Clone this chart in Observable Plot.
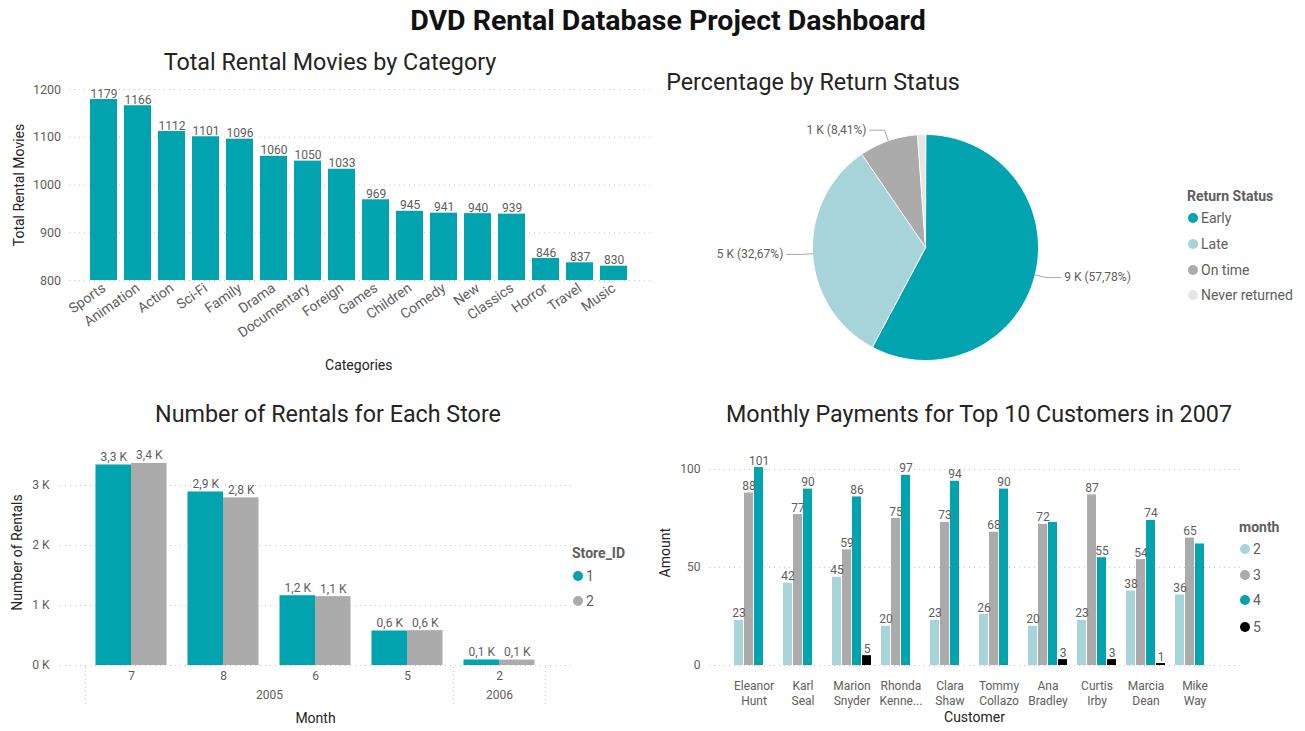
<!DOCTYPE html>
<html><head><meta charset="utf-8">
<script src="https://cdn.jsdelivr.net/npm/d3@7"></script>
<script src="https://cdn.jsdelivr.net/npm/@observablehq/plot@0.6"></script>
<style>
body{margin:0;background:#fff;font-family:Roboto,"Noto Sans",sans-serif;}
#root{position:relative;width:1305px;height:731px;overflow:hidden;background:#fff;}
.title{position:absolute;transform:translate(-50%,-50%);white-space:nowrap;color:#252423;font-size:23.3px;}
.main{font-weight:bold;font-size:28.5px;color:#111;}
.legtitle{position:absolute;transform:translateY(-50%);font-weight:bold;font-size:14px;color:#605E5C;white-space:nowrap;}
.legitem{position:absolute;transform:translateY(-50%);font-size:14px;color:#605E5C;white-space:nowrap;display:flex;align-items:center;}
.dot{display:inline-block;width:10px;height:10px;border-radius:50%;margin-right:3px;}
</style></head><body><div id="root"></div>
<script>
// ---------- data ----------
const categories = ["Sports","Animation","Action","Sci-Fi","Family","Drama","Documentary","Foreign","Games","Children","Comedy","New","Classics","Horror","Travel","Music"];
const categoryRentals = [1179,1166,1112,1101,1096,1060,1050,1033,969,945,941,940,939,846,837,830];

const returnStatuses = ["Early","Late","On time","Never returned"];
const returnCounts = [9270,5242,1349,183];

const storeMonths = ["7","8","6","5","2"];
const storeYears = ["2005","2005","2005","2005","2006"];
const storeIds = ["1","2"];
const store1Rentals = [3342,2892,1163,575,92];
const store2Rentals = [3367,2794,1148,581,90];

const customers = ["Eleanor Hunt","Karl Seal","Marion Snyder","Rhonda Kennedy","Clara Shaw","Tommy Collazo","Ana Bradley","Curtis Irby","Marcia Dean","Mike Way"];
const customerTickLabels = ["Eleanor\nHunt","Karl\nSeal","Marion\nSnyder","Rhonda\nKenne...","Clara\nShaw","Tommy\nCollazo","Ana\nBradley","Curtis\nIrby","Marcia\nDean","Mike\nWay"];
const paymentMonths = ["2","3","4","5"];
const payFeb = [23,42,45,20,23,26,20,23,38,36];
const payMar = [88,77,59,75,73,68,72,87,54,65];
const payApr = [101,90,86,97,94,90,73,55,74,62];
const payMay = [null,null,5,null,null,null,3,3,1,null];
const unlabeledPayments = [["Ana Bradley","4"],["Mike Way","4"]];

// ---------- styling ----------
const FONT = "Roboto, 'Noto Sans', sans-serif";
const TEAL = "#01A3AF", LIGHT = "#A6D4D8", GRAY = "#ABABAB", PALE = "#E6E6E6", BLACK = "#000000";
const GRID = "#C4C4C4", TXT = "#605E5C", DARK = "#252423";
const root = document.getElementById("root");
function place(el, left, top){ el.style.position="absolute"; el.style.left=left+"px"; el.style.top=top+"px"; root.append(el); }
function addDiv(cls, text, x, y){ const d=document.createElement("div"); d.className=cls; d.textContent=text; d.style.left=x+"px"; d.style.top=y+"px"; root.append(d); return d; }
function legend(title, items, x, y0, ys){
  addDiv("legtitle", title, x, y0);
  items.forEach((it,i)=>{ const d=document.createElement("div"); d.className="legitem"; d.style.left=(x+1)+"px"; d.style.top=ys[i]+"px";
    const s=document.createElement("span"); s.className="dot"; s.style.background=it.color; d.append(s); d.append(document.createTextNode(it.label)); root.append(d); });
}
const baseStyle = {fontFamily: FONT, fontSize: "12px", color: TXT, background: "transparent", overflow: "visible"};
const axisTitle = {fill: DARK, fontSize: 14, textAnchor: "middle"};

// ---------- titles ----------
addDiv("title main", "DVD Rental Database Project Dashboard", 668, 20);
addDiv("title", "Total Rental Movies by Category", 330, 62);
addDiv("title", "Percentage by Return Status", 813, 82);
addDiv("title", "Number of Rentals for Each Store", 328, 414);
addDiv("title", "Monthly Payments for Top 10 Customers in 2007", 979, 414);

// ---------- chart 1: categories ----------
const catData = categories.map((c,i)=>({category:c, value:categoryRentals[i]}));
const p1 = Plot.plot({
  width: 660, height: 310, marginTop: 14, marginBottom: 105, marginLeft: 79.5, marginRight: 23,
  style: baseStyle,
  x: {type: "band", domain: categories, padding: 0.2},
  y: {domain: [800, 1200]},
  marks: [
    Plot.ruleY([800,900,1000,1100,1200], {stroke: GRID, strokeDasharray: "1,4", insetLeft: -10.5, insetRight: -13}),
    Plot.barY(catData, {x: "category", y1: 800, y2: "value", fill: TEAL}),
    Plot.text(catData, {x: "category", y: "value", text: d => String(d.value), lineAnchor: "bottom", dy: -2, fill: TXT, fontSize: 12}),
    Plot.axisY({ticks: [800,900,1000,1100,1200], tickFormat: d => String(d), tickSize: 0, tickPadding: 19, label: null, fontSize: 12.5}),
    Plot.axisX({tickRotate: -35, tickSize: 0, tickPadding: 6, label: null, fontSize: 14}),
    Plot.text(["Total Rental Movies"], {...axisTitle, text: d => d, frameAnchor: "left", dx: -60.5, rotate: -90}),
    Plot.text(["Categories"], {...axisTitle, text: d => d, frameAnchor: "bottom", dy: 89})
  ]
});
place(p1, 0, 75);

// ---------- chart 2: pie ----------
const total = d3.sum(returnCounts);
let acc = 0;
const slices = returnStatuses.map((s,i)=>{ const a0 = acc/total*2*Math.PI; acc += returnCounts[i]; const a1 = acc/total*2*Math.PI;
  return {status: s, count: returnCounts[i], pct: returnCounts[i]/total, a0, a1}; });
const piePts = slices.flatMap(s => { const n = Math.max(2, Math.ceil((s.a1 - s.a0)/(Math.PI/180)));
  const pts = [{status: s.status, x: 0, y: 0}];
  for (let k = 0; k <= n; k++){ const a = s.a0 + (s.a1 - s.a0)*k/n; pts.push({status: s.status, x: Math.sin(a), y: Math.cos(a)}); }
  return pts; });
const labelled = slices.filter(s => s.pct > 0.05).map(s => { const m = (s.a0 + s.a1)/2; const ux = Math.sin(m), uy = Math.cos(m); const side = ux >= 0 ? 1 : -1;
  const ex = 1.1*ux, ey = 1.1*uy;
  return {...s, side, pts: [{x: 1.0*ux, y: 1.0*uy}, {x: ex, y: ey}, {x: ex + side*0.133, y: ey}], tx: ex + side*0.16, ty: ey,
    label: `${Math.round(s.count/1000)} K (${(s.pct*100).toFixed(2).replace(".", ",")}%)`}; });
const p2 = Plot.plot({
  width: 650, height: 290, marginLeft: 162, marginRight: 262, marginTop: 34, marginBottom: 30,
  style: baseStyle,
  x: {domain: [-1, 1], axis: null}, y: {domain: [-1, 1], axis: null},
  color: {domain: returnStatuses, range: [TEAL, LIGHT, GRAY, PALE]},
  marks: [
    Plot.line(piePts, {x: "x", y: "y", z: "status", fill: "status", stroke: "white", strokeWidth: 1, curve: "linear-closed"}),
    ...labelled.map(l => Plot.line(l.pts, {x: "x", y: "y", stroke: "#A8A8A8", strokeWidth: 1})),
    Plot.text(labelled.filter(d => d.side > 0), {x: "tx", y: "ty", text: "label", textAnchor: "start", fill: TXT, fontSize: 12}),
    Plot.text(labelled.filter(d => d.side < 0), {x: "tx", y: "ty", text: "label", textAnchor: "end", fill: TXT, fontSize: 12})
  ]
});
place(p2, 650, 100);
legend("Return Status", returnStatuses.map((s,i)=>({label: s, color: [TEAL, LIGHT, GRAY, PALE][i]})), 1187, 196, [218, 244, 270, 295]);

// ---------- chart 3: stores ----------
const HALF = 0.386;
const storeData = storeMonths.flatMap((m,i)=>[
  {i, month: m, store: "1", value: store1Rentals[i]},
  {i, month: m, store: "2", value: store2Rentals[i]}]);
const yearGroups = d3.groups(storeMonths.map((m,i)=>({i, year: storeYears[i]})), d => d.year)
  .map(([year, arr]) => ({year, mid: d3.mean(arr, d => d.i), lo: d3.min(arr, d => d.i) - 0.5, hi: d3.max(arr, d => d.i) + 0.5}));
const boundaries = Array.from(new Set(yearGroups.flatMap(g => [g.lo, g.hi])));
const fmtK = v => (v/1000).toFixed(1).replace(".", ",") + " K";
const p3 = Plot.plot({
  width: 650, height: 291, marginTop: 15, marginBottom: 66, marginLeft: 85, marginRight: 105,
  style: baseStyle,
  x: {domain: [-0.5, storeMonths.length - 0.5]},
  y: {domain: [0, 3500]},
  color: {domain: storeIds, range: [TEAL, GRAY]},
  marks: [
    Plot.ruleY([0,1000,2000,3000], {stroke: GRID, strokeDasharray: "1,4", insetLeft: -25, insetRight: -28}),
    Plot.rectY(storeData, {x1: d => d.store === "1" ? d.i - HALF : d.i, x2: d => d.store === "1" ? d.i : d.i + HALF, y1: 0, y2: "value", fill: "store"}),
    Plot.text(storeData, {x: d => d.store === "1" ? d.i - HALF/2 : d.i + HALF/2, y: "value", text: d => fmtK(d.value), lineAnchor: "bottom", dy: -4, fill: TXT, fontSize: 12}),
    Plot.axisY({ticks: [0,1000,2000,3000], tickFormat: d => (d/1000) + " K", tickSize: 0, tickPadding: 36, label: null, fontSize: 12}),
    Plot.axisX({ticks: d3.range(storeMonths.length), tickFormat: i => storeMonths[i], tickSize: 0, tickPadding: 6, label: null, fontSize: 12}),
    Plot.ruleX(boundaries, {stroke: GRID, strokeDasharray: "1,3", insetTop: 212, insetBottom: -41}),
    Plot.text(yearGroups, {x: "mid", text: "year", frameAnchor: "bottom", dy: 33, fill: TXT, fontSize: 12}),
    Plot.text(["Number of Rentals"], {...axisTitle, text: d => d, frameAnchor: "left", dx: -68, dy: -8, rotate: -90}),
    Plot.text(["Month"], {...axisTitle, text: d => d, frameAnchor: "bottom", dy: 57})
  ]
});
place(p3, 0, 440);
legend("Store_ID", storeIds.map((s,i)=>({label: s, color: [TEAL, GRAY][i]})), 572, 553, [576, 601]);

// ---------- chart 4: payments ----------
const SLOT = 10;
const payByMonth = [payFeb, payMar, payApr, payMay];
const payData = customers.flatMap((c,i)=> paymentMonths.map((m,j)=>({customer: c, month: m, j, value: payByMonth[j][i]}))).filter(d => d.value != null);
const isUnlabeled = d => unlabeledPayments.some(([c,m]) => c === d.customer && m === d.month);
const p4 = Plot.plot({
  width: 655, height: 291, marginTop: 9.4, marginBottom: 66, marginLeft: 74, marginRight: 81,
  style: baseStyle,
  x: {type: "band", domain: customers, padding: 0.2},
  y: {domain: [0, 110]},
  color: {domain: paymentMonths, range: [LIGHT, GRAY, TEAL, BLACK]},
  marks: [
    Plot.ruleY([0,50,100], {stroke: GRID, strokeDasharray: "1,4", insetLeft: -15, insetRight: -18}),
    ...paymentMonths.map((m,j) => Plot.barY(payData.filter(d => d.j === j), {x: "customer", y: "value", fill: "month", insetLeft: j*SLOT, insetRight: (paymentMonths.length - 1 - j)*SLOT})),
    ...paymentMonths.map((m,j) => Plot.text(payData.filter(d => d.j === j && !isUnlabeled(d)), {x: "customer", y: "value", text: d => String(d.value), dx: (j - 1.5)*SLOT, lineAnchor: "bottom", dy: -3, fill: TXT, fontSize: 12})),
    Plot.axisY({ticks: [0,50,100], tickSize: 0, tickPadding: 24, label: null, fontSize: 12}),
    Plot.axisX({tickFormat: c => customerTickLabels[customers.indexOf(c)], tickSize: 0, tickPadding: 14, lineHeight: 1.22, label: null, fontSize: 12}),
    Plot.text(["Amount"], {...axisTitle, text: d => d, frameAnchor: "left", dx: -58.5, dy: -5, rotate: -90}),
    Plot.text(["Customer"], {...axisTitle, text: d => d, frameAnchor: "bottom", dy: 56})
  ]
});
place(p4, 650, 440);
legend("month", paymentMonths.map((m,i)=>({label: m, color: [LIGHT, GRAY, TEAL, BLACK][i]})), 1239, 527, [549, 575, 600, 627]);
</script></body></html>
